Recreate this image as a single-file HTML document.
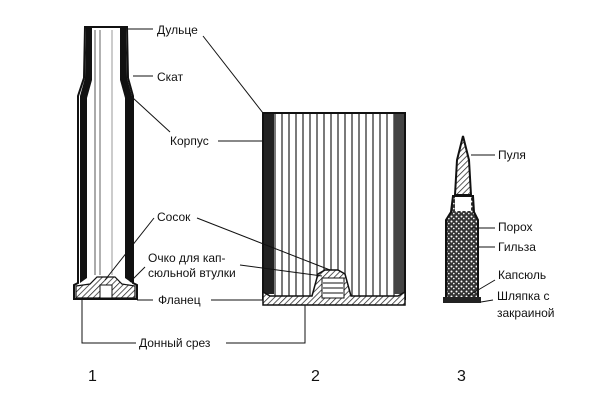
<!DOCTYPE html>
<html><head><meta charset="utf-8"><style>html,body{margin:0;padding:0;background:#fff}svg{display:block}</style></head><body>
<svg width="600" height="400" viewBox="0 0 600 400" xmlns="http://www.w3.org/2000/svg" font-family="Liberation Sans, DejaVu Sans, sans-serif">
<defs>
<pattern id="h" width="4" height="4" patternUnits="userSpaceOnUse" patternTransform="rotate(45)"><rect width="4" height="4" fill="#fff"/><line x1="0" y1="0" x2="0" y2="4" stroke="#222" stroke-width="1.5"/></pattern>
<pattern id="v" width="7" height="10" patternUnits="userSpaceOnUse"><rect width="7" height="10" fill="#fff"/><line x1="2" y1="0" x2="2" y2="10" stroke="#222" stroke-width="1.2"/></pattern>
<pattern id="g" width="5" height="5" patternUnits="userSpaceOnUse"><rect width="5" height="5" fill="#333"/><circle cx="1.5" cy="1.5" r="1" fill="#fff"/><circle cx="3.8" cy="3.6" r="0.8" fill="#fff"/></pattern>
</defs>
<!-- Case 1 -->
<path d="M85,27 L127,27 L128,78 L133,96 L133,283 L137,285 L137,299 L74,299 L74,285 L78,283 L78,96 L84,78 Z" fill="#fff" stroke="#111" stroke-width="2"/>
<path d="M86,28 L92,28 L92,80 L87,98 L87,278 L80,283 L80,96 L85,78 Z" fill="#111"/>
<path d="M126,28 L120,28 L120,80 L125,98 L125,278 L132,283 L132,96 L127,78 Z" fill="#111"/>
<line x1="100" y1="30" x2="100" y2="275" stroke="#666" stroke-width="1"/>
<line x1="112" y1="30" x2="112" y2="275" stroke="#999" stroke-width="1"/>
<line x1="95" y1="30" x2="95" y2="275" stroke="#555" stroke-width="1"/>
<path d="M76,286 L90,284 L97,277 L115,277 L122,284 L135,286 L135,298 L76,298 Z" fill="url(#h)" stroke="#111" stroke-width="1.2"/>
<rect x="100" y="285" width="12" height="13" fill="#fff" stroke="#111"/>
<!-- Case 2 -->
<rect x="263" y="113" width="142" height="186" fill="url(#v)" stroke="#111" stroke-width="2"/>
<rect x="264" y="114" width="10" height="180" fill="#222"/>
<rect x="394" y="114" width="10" height="180" fill="#444"/>
<path d="M263,292 L270,296 L312,296 L318,274 L325,270 L338,270 L345,274 L351,296 L398,296 L405,292 L405,305 L263,305 Z" fill="url(#h)" stroke="#111" stroke-width="1.5"/>
<rect x="322" y="278" width="22" height="20" fill="#fff" stroke="#111"/>
<line x1="323" y1="283" x2="343" y2="283" stroke="#111"/><line x1="323" y1="288" x2="343" y2="288" stroke="#111"/><line x1="323" y1="293" x2="343" y2="293" stroke="#111"/>
<!-- Case 3 -->
<path d="M463,136 L469,160 L471,195 L455,195 L457,160 Z" fill="url(#h)" stroke="#111" stroke-width="2"/>
<path d="M453,196 L473,196 L474,212 L478,220 L478,298 L446,298 L446,220 L451,212 Z" fill="url(#g)" stroke="#111" stroke-width="2"/>
<rect x="455" y="197" width="16" height="14" fill="#fff"/>
<rect x="443" y="297" width="38" height="6" fill="#222"/>
<!-- Leaders -->
<g stroke="#111" stroke-width="1" fill="none">
<line x1="127" y1="29" x2="153" y2="29"/>
<line x1="133" y1="76" x2="153" y2="76"/>
<line x1="133" y1="98" x2="170" y2="132"/>
<line x1="218" y1="141" x2="263" y2="141"/>
<line x1="203" y1="36" x2="263" y2="113"/>
<line x1="154" y1="218" x2="105" y2="280"/>
<line x1="197" y1="218" x2="330" y2="270"/>
<line x1="145" y1="267" x2="130" y2="282"/>
<line x1="240" y1="265" x2="322" y2="276"/>
<line x1="137" y1="300" x2="153" y2="300"/>
<line x1="211" y1="300" x2="263" y2="300"/>
<polyline points="82,300 82,343 136,343"/>
<polyline points="226,343 305,343 305,305"/>
<line x1="471" y1="155" x2="495" y2="155"/>
<line x1="471" y1="228" x2="495" y2="228"/>
<line x1="478" y1="247" x2="495" y2="247"/>
<line x1="495" y1="280" x2="468" y2="296"/>
<line x1="493" y1="300" x2="481" y2="302"/>
</g>
<g font-size="12" fill="#111">
<text x="157" y="34">Дульце</text>
<text x="157" y="81">Скат</text>
<text x="170" y="145">Корпус</text>
<text x="157" y="221">Сосок</text>
<text x="148" y="262">Очко для кап-</text>
<text x="148" y="277">сюльной втулки</text>
<text x="158" y="304">Фланец</text>
<text x="139" y="347">Донный срез</text>
<text x="498" y="159">Пуля</text>
<text x="498" y="231">Порох</text>
<text x="498" y="251">Гильза</text>
<text x="498" y="279">Капсюль</text>
<text x="497" y="300">Шляпка с</text>
<text x="497" y="317">закраиной</text>
</g>
<g font-size="16" fill="#111">
<text x="88" y="381">1</text>
<text x="311" y="381">2</text>
<text x="457" y="381">3</text>
</g>
</svg>
</body></html>
